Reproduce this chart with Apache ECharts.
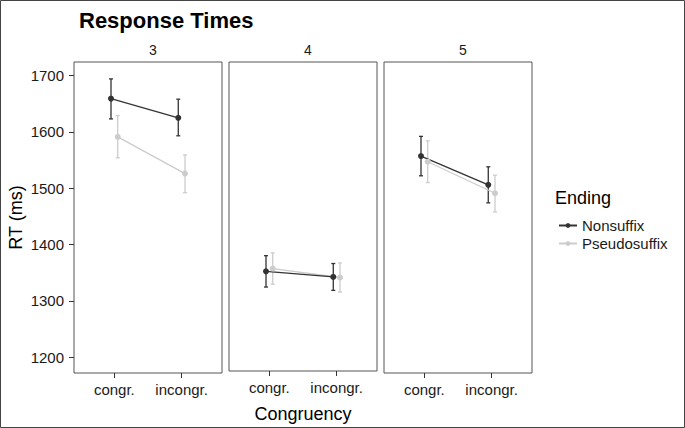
<!DOCTYPE html>
<html>
<head>
<meta charset="utf-8">
<script src="https://cdn.jsdelivr.net/npm/echarts@6/dist/echarts.min.js"></script>
<style>
  html, body { margin: 0; padding: 0; background: #fff; }
  #main { width: 685px; height: 428px; }
</style>
</head>
<body>
<div id="main"></div>
<script>
// facet labels, categories and values
var facetLabels = ['3', '4', '5'];
var congruency = ['congr.', 'incongr.'];
var seriesNames = ['Nonsuffix', 'Pseudosuffix'];
var yTicks = [1200, 1300, 1400, 1500, 1600, 1700];

var nonsuffixMean = [[1659, 1625], [1350, 1340], [1557, 1506]];
var nonsuffixLow  = [[1623, 1593], [1322, 1316], [1522, 1474]];
var nonsuffixHigh = [[1694, 1658], [1378, 1364], [1592, 1538]];

var pseudoMean = [[1591, 1526], [1355, 1339], [1547, 1491]];
var pseudoLow  = [[1554, 1492], [1327, 1313], [1510, 1458]];
var pseudoHigh = [[1629, 1559], [1383, 1365], [1584, 1523]];

var darkCol = '#333333';
var lightCol = '#cccccc';
var fontFam = '"Liberation Sans", Arial, sans-serif';

var panelLeft = [74, 229, 384];
var panelW = 148;

var myChart = echarts.init(document.getElementById('main'), null, { renderer: 'svg' });

var grids = [], xAxes = [], yAxes = [], series = [], titles = [];

titles.push({
    text: 'Response Times', left: 74, top: 4,
    textStyle: { fontFamily: fontFam, fontSize: 22, fontWeight: 'bold', color: '#000' }
});

function errRender(color) {
    return function (params, api) {
        var x = api.value(0);
        var lo = api.coord([x, api.value(1)]);
        var hi = api.coord([x, api.value(2)]);
        var w = 2;
        var st = { stroke: color, lineWidth: 1.3 };
        return {
            type: 'group',
            children: [
                { type: 'line', shape: { x1: lo[0], y1: lo[1], x2: hi[0], y2: hi[1] }, style: st },
                { type: 'line', shape: { x1: lo[0] - w, y1: lo[1], x2: lo[0] + w, y2: lo[1] }, style: st },
                { type: 'line', shape: { x1: hi[0] - w, y1: hi[1], x2: hi[0] + w, y2: hi[1] }, style: st }
            ]
        };
    };
}

var groups = [
    { name: 'Pseudosuffix', color: lightCol, off: 0.05, mean: pseudoMean, low: pseudoLow, high: pseudoHigh },
    { name: 'Nonsuffix', color: darkCol, off: -0.05, mean: nonsuffixMean, low: nonsuffixLow, high: nonsuffixHigh }
];

for (var i = 0; i < facetLabels.length; i++) {
    grids.push({
        left: panelLeft[i], top: 62, width: panelW, height: 311,
        show: true, borderColor: '#555', borderWidth: 1, backgroundColor: '#fff'
    });
    titles.push({
        text: facetLabels[i], left: panelLeft[i] + panelW / 2, top: 38, textAlign: 'center',
        textStyle: { fontFamily: fontFam, fontSize: 14, fontWeight: 'normal', color: '#1a1a1a' }
    });
    xAxes.push({
        type: 'value', gridIndex: i, min: 0.4, max: 2.6,
        name: i === 1 ? 'Congruency' : '',
        nameLocation: 'middle', nameGap: 34,
        nameTextStyle: { fontFamily: fontFam, fontSize: 18, color: '#000' },
        axisLine: { show: false },
        splitLine: { show: false },
        axisTick: { show: true, length: 5, customValues: [1, 2], lineStyle: { color: '#333' } },
        axisLabel: {
            customValues: [1, 2], margin: 9,
            fontFamily: fontFam, fontSize: 15, color: '#1a1a1a',
            formatter: function (v) { return congruency[Math.round(v) - 1]; }
        }
    });
    yAxes.push({
        type: 'value', gridIndex: i, min: 1172, max: 1724,
        name: i === 0 ? 'RT (ms)' : '',
        nameLocation: 'middle', nameGap: 49, nameRotate: 90,
        nameTextStyle: { fontFamily: fontFam, fontSize: 18, color: '#000' },
        axisLine: { show: false },
        splitLine: { show: false },
        axisTick: { show: i === 0, length: 5, customValues: yTicks, lineStyle: { color: '#333' } },
        axisLabel: {
            show: i === 0, customValues: yTicks, margin: 10,
            fontFamily: fontFam, fontSize: 15, color: '#1a1a1a',
            formatter: function (v) { return String(v); }
        }
    });
    groups.forEach(function (g) {
        var pts = [], errs = [];
        for (var k = 0; k < congruency.length; k++) {
            pts.push([k + 1 + g.off, g.mean[i][k]]);
            errs.push([k + 1 + g.off, g.low[i][k], g.high[i][k]]);
        }
        series.push({
            type: 'custom', name: g.name + ' err', xAxisIndex: i, yAxisIndex: i,
            renderItem: errRender(g.color), encode: { x: 0, y: [1, 2] }, data: errs, silent: true
        });
        series.push({
            type: 'line', name: g.name, xAxisIndex: i, yAxisIndex: i,
            data: pts, symbol: 'circle', symbolSize: 6,
            lineStyle: { color: g.color, width: 1.3 },
            itemStyle: { color: g.color },
            silent: true
        });
    });
}

titles.push({
    text: 'Ending', left: 550, top: 184,
    textStyle: { fontFamily: fontFam, fontSize: 18, fontWeight: 'normal', color: '#000' }
});

var option = {
    animation: false,
    backgroundColor: '#fff',
    title: titles,
    grid: grids,
    xAxis: xAxes,
    yAxis: yAxes,
    legend: {
        data: seriesNames, orient: 'vertical', left: 553, top: 213,
        itemWidth: 18, itemHeight: 6, itemGap: 3,
        textStyle: { fontFamily: fontFam, fontSize: 15, color: '#1a1a1a' },
        selectedMode: false
    },
    graphic: [{
        type: 'rect', shape: { x: 0.5, y: 0.5, width: 684, height: 427 },
        style: { fill: 'none', stroke: '#444', lineWidth: 1 }, silent: true
    }],
    series: series
};

myChart.setOption(option);
</script>
</body>
</html>
